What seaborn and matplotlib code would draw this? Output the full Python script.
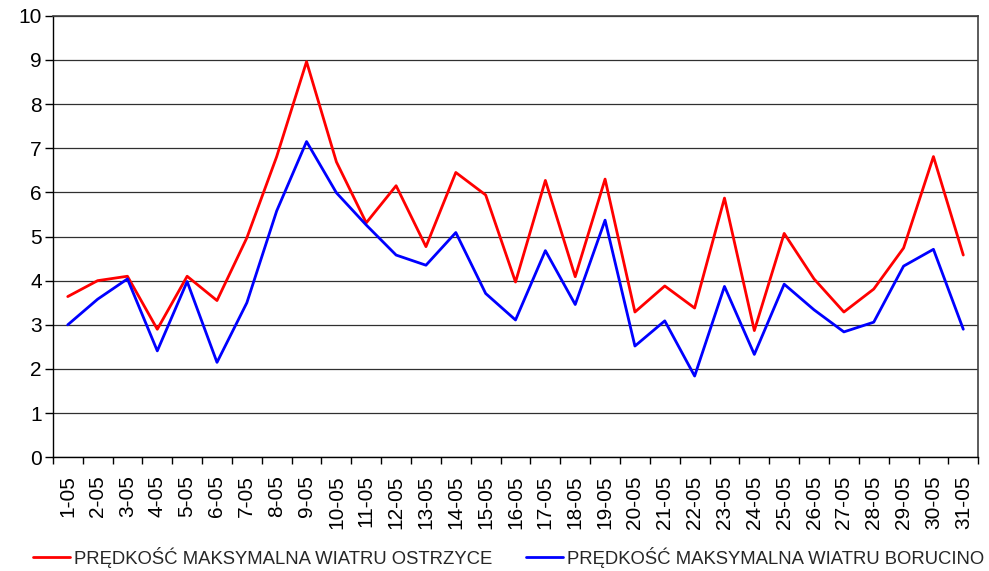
import matplotlib
matplotlib.use("Agg")
import matplotlib.pyplot as plt
import seaborn as sns
import pandas as pd
import numpy as np

days = [f"{d}-05" for d in range(1, 32)]
ostrzyce = [3.64, 4.0, 4.1, 2.9, 4.1, 3.55, 4.97, 6.81, 8.96, 6.69, 5.31, 6.15, 4.77,
            6.45, 5.94, 3.97, 6.27, 4.09, 6.3, 3.29, 3.88, 3.38, 5.87, 2.87, 5.07,
            4.04, 3.29, 3.81, 4.74, 6.81, 4.58]
borucino = [3.0, 3.58, 4.04, 2.41, 3.98, 2.15, 3.5, 5.58, 7.15, 5.99, 5.26, 4.58, 4.35,
            5.09, 3.71, 3.11, 4.68, 3.46, 5.37, 2.52, 3.09, 1.84, 3.87, 2.33, 3.92,
            3.34, 2.84, 3.06, 4.33, 4.71, 2.9]
series_names = ["PRĘDKOŚĆ MAKSYMALNA WIATRU OSTRZYCE",
                "PRĘDKOŚĆ MAKSYMALNA WIATRU BORUCINO"]
y_ticks = list(range(0, 11))

sns.set_theme(style="white")
plt.rcParams['font.family'] = ['Liberation Sans', 'DejaVu Sans']

df = pd.DataFrame({
    "day": list(range(len(days))) * 2,
    "value": ostrzyce + borucino,
    "series": [series_names[0]] * len(days) + [series_names[1]] * len(days),
})

fig = plt.figure(figsize=(9.89, 5.71), dpi=100)
ax = fig.add_axes([0.0534, 0.1991, 0.9357, 0.7734])

sns.lineplot(data=df, x="day", y="value", hue="series",
             palette=["#ff0000", "#0000ff"], linewidth=2.0, ax=ax, legend=True)

ax.set_xlim(-0.5, len(days) - 0.5)
ax.set_ylim(0, 10)
ax.set_yticks(y_ticks)
ax.set_yticklabels([str(t) for t in y_ticks], fontsize=15, color="black")
ax.set_xticks(range(len(days)))
ax.set_xticklabels(days, rotation=90, fontsize=15, color="black")
ax.set_xticks(np.arange(-0.5, len(days), 1.0), minor=True)
ax.tick_params(axis="x", which="major", length=0, pad=13)
ax.tick_params(axis="x", which="minor", length=5, width=1, color="black", direction="out", bottom=True)
ax.tick_params(axis="y", which="major", length=6, width=1, color="black", direction="out", left=True, pad=2)
ax.set_xlabel("")
ax.set_ylabel("")

ax.yaxis.grid(True, color="#303030", linewidth=0.9)
ax.xaxis.grid(False)
for s in ["left", "bottom"]:
    ax.spines[s].set_color("black")
    ax.spines[s].set_linewidth(1.0)
for s in ["top", "right"]:
    ax.spines[s].set_color("#404040")
    ax.spines[s].set_linewidth(1.2)
    ax.spines[s].set_visible(True)

handles, labels = ax.get_legend_handles_labels()
ax.get_legend().remove()
fig.legend(handles, labels, loc="center left", bbox_to_anchor=(0.0334, 0.024),
           ncol=2, frameon=False, fontsize=13.3, handlelength=2.0,
           handletextpad=0.2, columnspacing=1.85, borderpad=0, borderaxespad=0)

fig.savefig("out.png", dpi=100)
